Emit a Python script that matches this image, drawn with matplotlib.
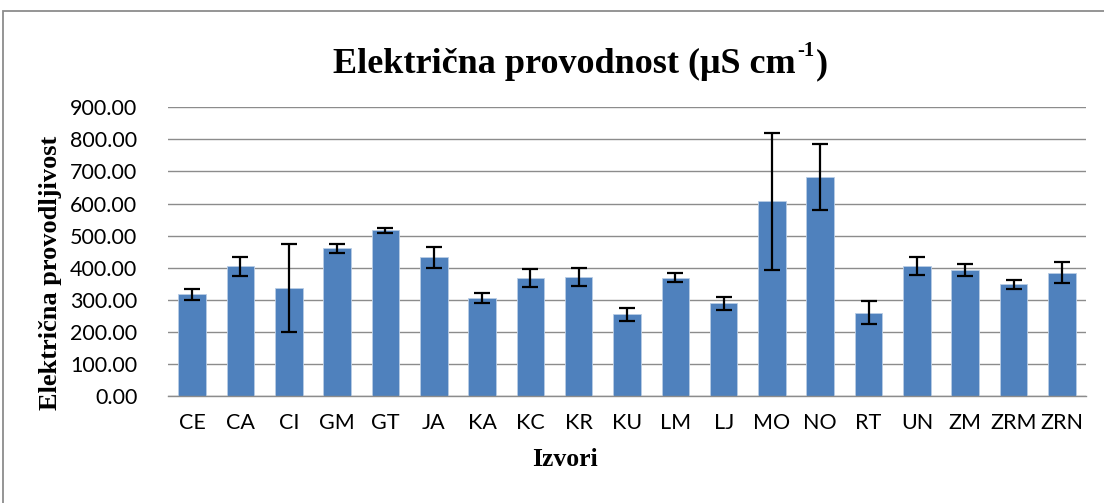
import numpy as np
import matplotlib
matplotlib.use("Agg")
import matplotlib.pyplot as plt
from matplotlib.patches import Rectangle

##########
########## Data
##########

izvori = ["CE", "CA", "CI", "GM", "GT", "JA", "KA", "KC", "KR", "KU",
          "LM", "LJ", "MO", "NO", "RT", "UN", "ZM", "ZRM", "ZRN"]
provodnost = [317, 404, 337, 460, 516, 432, 306, 367, 371, 255,
              369, 289, 607, 682, 259, 406, 393, 348, 385]
greska = [18, 29, 137, 14, 9, 32, 15, 28, 28, 20,
          15, 21, 214, 103, 36, 28, 19, 15, 32]
y_ticks = [0, 100, 200, 300, 400, 500, 600, 700, 800, 900]

##########
########## Style
##########

plava = "#4F81BD"
siva = "#8C8C8C"
sans = "Lato"
serif = "Liberation Serif"

##########
########## Plot
##########

fig = plt.figure(figsize=(11.04, 5.03), dpi=100)
ax = fig.add_axes([168 / 1104, 107 / 503, 918 / 1104, 288.7 / 503])

x = np.arange(len(izvori))
ax.bar(x, provodnost, width=0.571, color=plava, edgecolor="#B9CDE5",
       linewidth=0.6, zorder=2)
ax.errorbar(x, provodnost, yerr=greska, fmt="none", ecolor="black",
            elinewidth=1.6, capsize=6, capthick=1.6, zorder=3)

ax.set_xlim(-0.5, len(izvori) - 0.5)
ax.set_ylim(0, 900)
ax.set_yticks(y_ticks)
ax.set_yticklabels(["{:.2f}".format(v) for v in y_ticks])
ax.set_xticks(x)
ax.set_xticklabels(izvori)
ax.grid(axis="y", color=siva, linewidth=1.0, zorder=0)
ax.set_axisbelow(True)
for s in ["top", "right", "left"]:
    ax.spines[s].set_visible(False)
ax.spines["bottom"].set_color(siva)
ax.spines["bottom"].set_linewidth(1.0)
ax.tick_params(axis="both", length=0, labelsize=15.5, colors="black")
ax.tick_params(axis="y", pad=22)
ax.tick_params(axis="x", pad=12)
for lab in ax.get_xticklabels() + ax.get_yticklabels():
    lab.set_fontfamily(sans)

# nazivi osi
fig.text(565 / 1104, 1 - 460 / 503, "Izvori", ha="center", va="center",
         fontfamily=serif, fontweight="bold", fontsize=18.5)
fig.text(51 / 1104, 1 - 273 / 503, "Električna provodljivost", rotation=90,
         ha="center", va="center", fontfamily=serif, fontweight="bold", fontsize=19)

# naslov sa eksponentom
naslov = fig.text(333 / 1104, 1 - 73 / 503, "Električna provodnost (μS cm",
                  ha="left", va="baseline", fontfamily=serif,
                  fontweight="bold", fontsize=26)
sup = ax.annotate("-1", xy=(1.0, 0.6), xycoords=naslov, xytext=(1, 0),
                  textcoords="offset points", ha="left", va="bottom",
                  fontfamily=serif, fontweight="bold", fontsize=15,
                  annotation_clip=False)
ax.annotate(")", xy=(1.0, 0.0), xycoords=(sup, naslov), xytext=(1, 0),
            textcoords="offset points", ha="left", va="bottom",
            fontfamily=serif, fontweight="bold", fontsize=26,
            annotation_clip=False)

# okvir grafikona
fig.patches.append(Rectangle((3 / 1104, -0.05), 1.2, 1 - 11 / 503 + 0.05,
                             transform=fig.transFigure, fill=False,
                             edgecolor=siva, linewidth=1.3))

fig.savefig("out.png", dpi=100)
